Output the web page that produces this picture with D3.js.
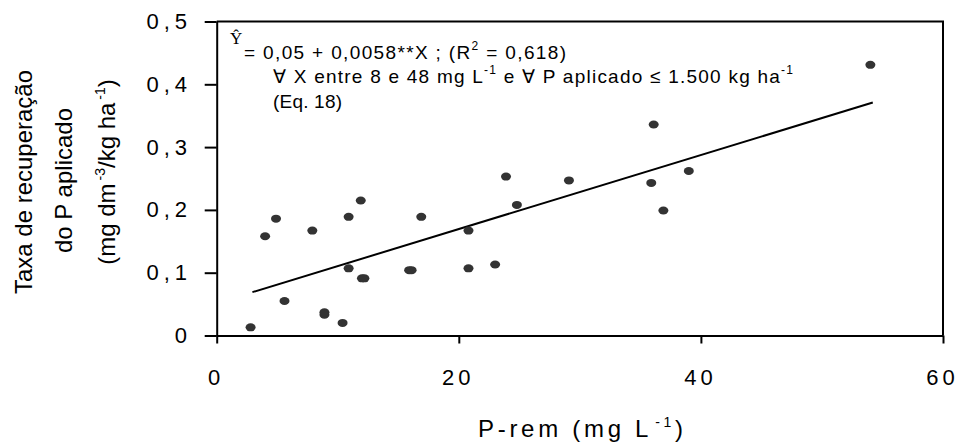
<!DOCTYPE html>
<html><head><meta charset="utf-8">
<script src="https://cdn.jsdelivr.net/npm/d3@7"></script>
<style>
body{margin:0;background:#fff}
svg{display:block}
text{font-family:"Liberation Sans", Arial, sans-serif; fill:#000}
</style>
</head><body>
<svg id="c" width="959" height="442"></svg>
<script>
// ---- data ----
const pRem = [2.8, 5.6, 8.9, 8.9, 10.4, 4.0, 4.9, 7.9, 10.9, 11.9, 10.9, 12.0, 12.2, 15.9, 16.1, 16.9, 20.8, 20.8, 23.0, 23.9, 24.8, 29.1, 35.9, 36.1, 36.9, 39.0, 54.0];
const rate = [0.013, 0.055, 0.033, 0.037, 0.020, 0.158, 0.186, 0.167, 0.189, 0.215, 0.107, 0.091, 0.091, 0.104, 0.104, 0.189, 0.167, 0.107, 0.113, 0.253, 0.208, 0.247, 0.243, 0.336, 0.199, 0.262, 0.431];
const fitX = [2.95, 54.2];
const fitY = [0.069, 0.371];
const xTicks = [0, 20, 40, 60];
const xTickLabels = ["0", "20", "40", "60"];
const yTicks = [0, 0.1, 0.2, 0.3, 0.4, 0.5];
const yTickLabels = ["0", "0,1", "0,2", "0,3", "0,4", "0,5"];

const svg = d3.select("#c");
const x = d3.scaleLinear().domain([0, 60]).range([216.7, 943]);
const y = d3.scaleLinear().domain([0, 0.5]).range([335.5, 21.5]);

function fit(sel, target) {
  sel.attr("letter-spacing", 0);
  const nat = sel.node().getComputedTextLength();
  const n = sel.text().length;
  const ls = (target - nat) / (n - 1);
  sel.attr("letter-spacing", ls);
  return ls;
}

// frame (top & right)
svg.append("path")
  .attr("d", `M${x(0)},${y(0.5)}H${x(60)}V${y(0)}`)
  .attr("fill", "none").attr("stroke", "#000").attr("stroke-width", 2);

// axes
const gx = svg.append("g").attr("transform", `translate(0,${y(0)})`)
  .call(d3.axisBottom(x).tickValues(xTicks).tickSize(8).tickSizeOuter(0).tickPadding(26)
    .tickFormat((d, i) => xTickLabels[i]));
const gy = svg.append("g").attr("transform", `translate(${x(0)},0)`)
  .call(d3.axisLeft(y).tickValues(yTicks).tickSize(12).tickSizeOuter(0).tickPadding(12.7)
    .tickFormat((d, i) => yTickLabels[i]));
[gx, gy].forEach(g => {
  g.select(".domain").attr("stroke", "#000").attr("stroke-width", 2);
  g.selectAll(".tick line").attr("stroke", "#000").attr("stroke-width", 2);
  g.selectAll(".tick text").attr("font-family", "Liberation Sans, Arial, sans-serif")
    .attr("font-size", 22).attr("fill", "#000");
});
gy.selectAll(".tick text").attr("letter-spacing", 5);
gx.selectAll(".tick text").attr("letter-spacing", 4).attr("dx", -1);

// regression line
svg.append("path")
  .datum(fitX.map((v, i) => [v, fitY[i]]))
  .attr("d", d3.line().x(d => x(d[0])).y(d => y(d[1])))
  .attr("fill", "none").attr("stroke", "#000").attr("stroke-width", 2);

// points
svg.append("g").selectAll("ellipse")
  .data(pRem.map((v, i) => [v, rate[i]]))
  .join("ellipse")
  .attr("cx", d => x(d[0])).attr("cy", d => y(d[1]))
  .attr("rx", 5).attr("ry", 4).attr("fill", "#333");

// x title
const xt = svg.append("text").attr("x", 478).attr("y", 436.7).attr("font-size", 24);
xt.append("tspan").text("P-rem (mg L");
xt.append("tspan").attr("font-size", 14).attr("dy", -10).attr("dx", 3).text("-1");
xt.append("tspan").attr("dy", 10).text(")");
fit(xt, 202);

// y title (three lines)
svg.append("text").attr("transform", "translate(32,182) rotate(-90)")
  .attr("text-anchor", "middle").attr("font-size", 24).text("Taxa de recuperação");
svg.append("text").attr("transform", "translate(72,180.5) rotate(-90)")
  .attr("text-anchor", "middle").attr("font-size", 24).text("do P aplicado");
const yl3 = svg.append("text").attr("transform", "translate(115,172) rotate(-90)")
  .attr("text-anchor", "middle").attr("font-size", 24);
yl3.append("tspan").text("(mg dm");
yl3.append("tspan").attr("font-size", 14).attr("dy", -10).attr("dx", 3).text("-3");
yl3.append("tspan").attr("dy", 10).text("/kg ha");
yl3.append("tspan").attr("font-size", 14).attr("dy", -10).attr("dx", 3).text("-1");
yl3.append("tspan").attr("dy", 10).text(")");

// equation
svg.append("text").attr("x", 230).attr("y", 44)
  .style("font-family", "'Liberation Serif', 'Times New Roman', serif").attr("font-size", 17).text("Ŷ");
const e1 = svg.append("text").attr("x", 244).attr("y", 59.3).attr("font-size", 19);
e1.append("tspan").text("= 0,05 + 0,0058**X ; (R");
e1.append("tspan").attr("font-size", 12).attr("dy", -9).text("2");
e1.append("tspan").attr("dy", 9).text(" = 0,618)");
fit(e1, 322);
const e2 = svg.append("text").attr("x", 273).attr("y", 83.3).attr("font-size", 19);
e2.append("tspan").text("∀ X entre 8 e 48 mg L");
e2.append("tspan").attr("font-size", 12).attr("dy", -9).text("-1");
e2.append("tspan").attr("dy", 9).text(" e ∀ P aplicado ≤ 1.500 kg ha");
e2.append("tspan").attr("font-size", 12).attr("dy", -9).text("-1");
fit(e2, 520);
svg.append("text").attr("x", 273).attr("y", 108).attr("font-size", 19)
  .attr("letter-spacing", 0.2).text("(Eq. 18)");
</script>
</body></html>
